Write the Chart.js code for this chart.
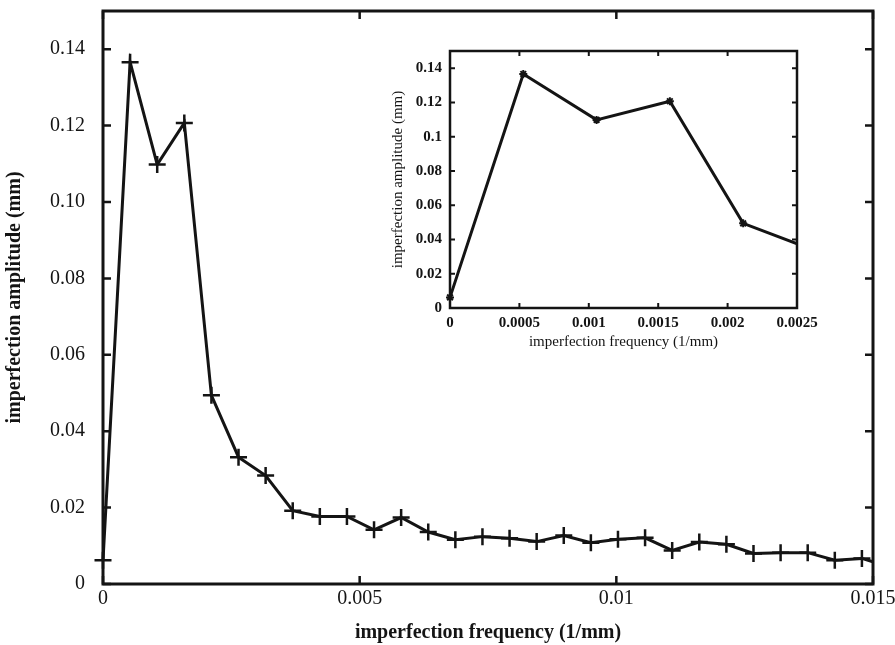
<!DOCTYPE html>
<html lang="en">
<head>
<meta charset="UTF-8">
<title>Imperfection amplitude spectrum</title>
<script src="https://cdn.jsdelivr.net/npm/chart.js"></script>
<style>
    body { margin: 0; background: #fff; }
    #janela { position: relative; width: 895px; height: 645px; }
    #mainChart { position: absolute; left: 0; top: 0; }
    #insetChart { position: absolute; left: 385px; top: 45px; background: #fff; }
</style>
</head>
<body>
<div id="janela">
    <canvas id="mainChart" width="895" height="645"></canvas>
    <canvas id="insetChart" width="445" height="310"></canvas>
</div>

<script>
    // data (1/mm, mm)
    var frequencies = [0, 0.000528, 0.001056, 0.001584, 0.002112, 0.00264, 0.003168, 0.003696, 0.004224, 0.004752,
        0.00528, 0.005808, 0.006336, 0.006864, 0.007392, 0.00792, 0.008448, 0.008976, 0.009504, 0.010032,
        0.01056, 0.011088, 0.011616, 0.012144, 0.012672, 0.0132, 0.013728, 0.014256, 0.014784, 0.015312]
    var amplitudes = [0.0062, 0.1366, 0.1098, 0.1207, 0.0494, 0.0332, 0.0284, 0.0192, 0.0177, 0.0177,
        0.0142, 0.0174, 0.0136, 0.0116, 0.0124, 0.0120, 0.0111, 0.0127, 0.0108, 0.0117,
        0.0121, 0.0088, 0.0110, 0.0104, 0.0080, 0.0082, 0.0082, 0.0062, 0.0067, 0.0045]

    var mainXTicks = [0, 0.005, 0.01, 0.015]
    var mainXLabels = ['0', '0.005', '0.01', '0.015']
    var mainYTicks = [0, 0.02, 0.04, 0.06, 0.08, 0.10, 0.12, 0.14]
    var mainYLabels = ['0', '0.02', '0.04', '0.06', '0.08', '0.10', '0.12', '0.14']

    var insetXTicks = [0, 0.0005, 0.001, 0.0015, 0.002, 0.0025]
    var insetXLabels = ['0', '0.0005', '0.001', '0.0015', '0.002', '0.0025']
    var insetYTicks = [0, 0.02, 0.04, 0.06, 0.08, 0.10, 0.12, 0.14]
    var insetYLabels = ['0', '0.02', '0.04', '0.06', '0.08', '0.1', '0.12', '0.14']

    var pontos = frequencies.map(function (f, i) { return { x: f, y: amplitudes[i] } })
    var serif = '"Liberation Serif", "Times New Roman", serif'
    var tinta = '#141414'

    // box round the plot area with inward ticks on all four sides
    var moldura = {
        id: 'frame',
        afterDatasetsDraw: function (chart, args, opts) {
            var ctx = chart.ctx, a = chart.chartArea, sx = chart.scales.x, sy = chart.scales.y
            ctx.save()
            ctx.strokeStyle = tinta
            ctx.lineWidth = opts.lineWidth
            ctx.strokeRect(a.left, a.top, a.right - a.left, a.bottom - a.top)
            ctx.lineWidth = opts.tickWidth
            ctx.beginPath()
            sx.ticks.forEach(function (t) {
                var px = sx.getPixelForValue(t.value)
                ctx.moveTo(px, a.bottom); ctx.lineTo(px, a.bottom - opts.tickLen)
                ctx.moveTo(px, a.top); ctx.lineTo(px, a.top + opts.tickLen)
            })
            sy.ticks.forEach(function (t) {
                var py = sy.getPixelForValue(t.value)
                ctx.moveTo(a.left, py); ctx.lineTo(a.left + opts.tickLen, py)
                ctx.moveTo(a.right, py); ctx.lineTo(a.right - opts.tickLen, py)
            })
            ctx.stroke()
            ctx.restore()
        }
    }

    function fixarTicks(valores) {
        return function (scale) {
            scale.ticks = valores.map(function (v) { return { value: v } })
        }
    }

    function eixos(cfg) {
        return {
            x: {
                type: 'linear', min: cfg.xMin, max: cfg.xMax,
                afterBuildTicks: fixarTicks(cfg.xTicks),
                afterFit: function (s) { s.height = cfg.xHeight; s.paddingLeft = 0; s.paddingRight = 0 },
                grid: { display: false, drawTicks: false },
                border: { display: false },
                ticks: {
                    color: tinta, padding: cfg.xPad, maxRotation: 0, autoSkip: false,
                    font: { family: serif, size: cfg.tickSize, weight: cfg.tickWeight },
                    callback: function (v, i) { return cfg.xLabels[i] }
                },
                title: {
                    display: true, text: 'imperfection frequency (1/mm)', color: tinta,
                    font: { family: serif, size: cfg.titleSize, weight: cfg.titleWeight },
                    padding: { top: 0, bottom: cfg.xTitlePad }
                }
            },
            y: {
                type: 'linear', min: 0, max: 0.15,
                afterBuildTicks: fixarTicks(cfg.yTicks),
                afterFit: function (s) { s.width = cfg.yWidth; s.paddingTop = 0; s.paddingBottom = 0 },
                grid: { display: false, drawTicks: false },
                border: { display: false },
                ticks: {
                    color: tinta, padding: cfg.yPad, autoSkip: false,
                    font: { family: serif, size: cfg.tickSize, weight: cfg.tickWeight },
                    callback: function (v, i) { return cfg.yLabels[i] }
                },
                title: {
                    display: true, text: 'imperfection amplitude (mm)', color: tinta,
                    font: { family: serif, size: cfg.titleSize, weight: cfg.titleWeight },
                    padding: { top: cfg.yTitlePad, bottom: 0 }
                }
            }
        }
    }

    var graficoPrincipal = new Chart(document.getElementById('mainChart'), {
        type: 'line',
        data: {
            datasets: [{
                data: pontos,
                borderColor: tinta,
                borderWidth: 3,
                pointStyle: 'cross',
                pointRadius: 8.5,
                pointBorderWidth: 2.5,
                pointBorderColor: tinta,
                tension: 0,
                clip: { left: 12, top: 12, right: 1, bottom: 12 }
            }]
        },
        options: {
            responsive: false,
            animation: false,
            devicePixelRatio: 1,
            layout: { padding: { top: 5, right: 22, left: 0, bottom: 0 } },
            plugins: {
                legend: { display: false },
                tooltip: { enabled: false },
                frame: { lineWidth: 3, tickWidth: 2.5, tickLen: 8 }
            },
            scales: eixos({
                xMin: 0, xMax: 0.015, xTicks: mainXTicks, xLabels: mainXLabels,
                yTicks: mainYTicks, yLabels: mainYLabels,
                xHeight: 61, yWidth: 103, xPad: 3, yPad: 18,
                tickSize: 20, tickWeight: 'normal', titleSize: 20, titleWeight: 'bold',
                xTitlePad: 0, yTitlePad: 3
            })
        },
        plugins: [moldura]
    })

    var graficoInset = new Chart(document.getElementById('insetChart'), {
        type: 'line',
        data: {
            datasets: [{
                data: pontos,
                borderColor: tinta,
                borderWidth: 3,
                pointStyle: 'star',
                pointRadius: 4,
                pointBorderWidth: 2,
                pointBorderColor: tinta,
                tension: 0,
                clip: { left: 6, top: 6, right: 1, bottom: 6 }
            }]
        },
        options: {
            responsive: false,
            animation: false,
            devicePixelRatio: 1,
            layout: { padding: { top: 6, right: 33, left: 0, bottom: 0 } },
            plugins: {
                legend: { display: false },
                tooltip: { enabled: false },
                frame: { lineWidth: 2.5, tickWidth: 2, tickLen: 5 }
            },
            scales: eixos({
                xMin: 0, xMax: 0.0025, xTicks: insetXTicks, xLabels: insetXLabels,
                yTicks: insetYTicks, yLabels: insetYLabels,
                xHeight: 47, yWidth: 65, xPad: 6, yPad: 8,
                tickSize: 15, tickWeight: 'bold', titleSize: 15, titleWeight: 'normal',
                xTitlePad: 4, yTitlePad: 4
            })
        },
        plugins: [moldura]
    })
</script>
</body>
</html>
